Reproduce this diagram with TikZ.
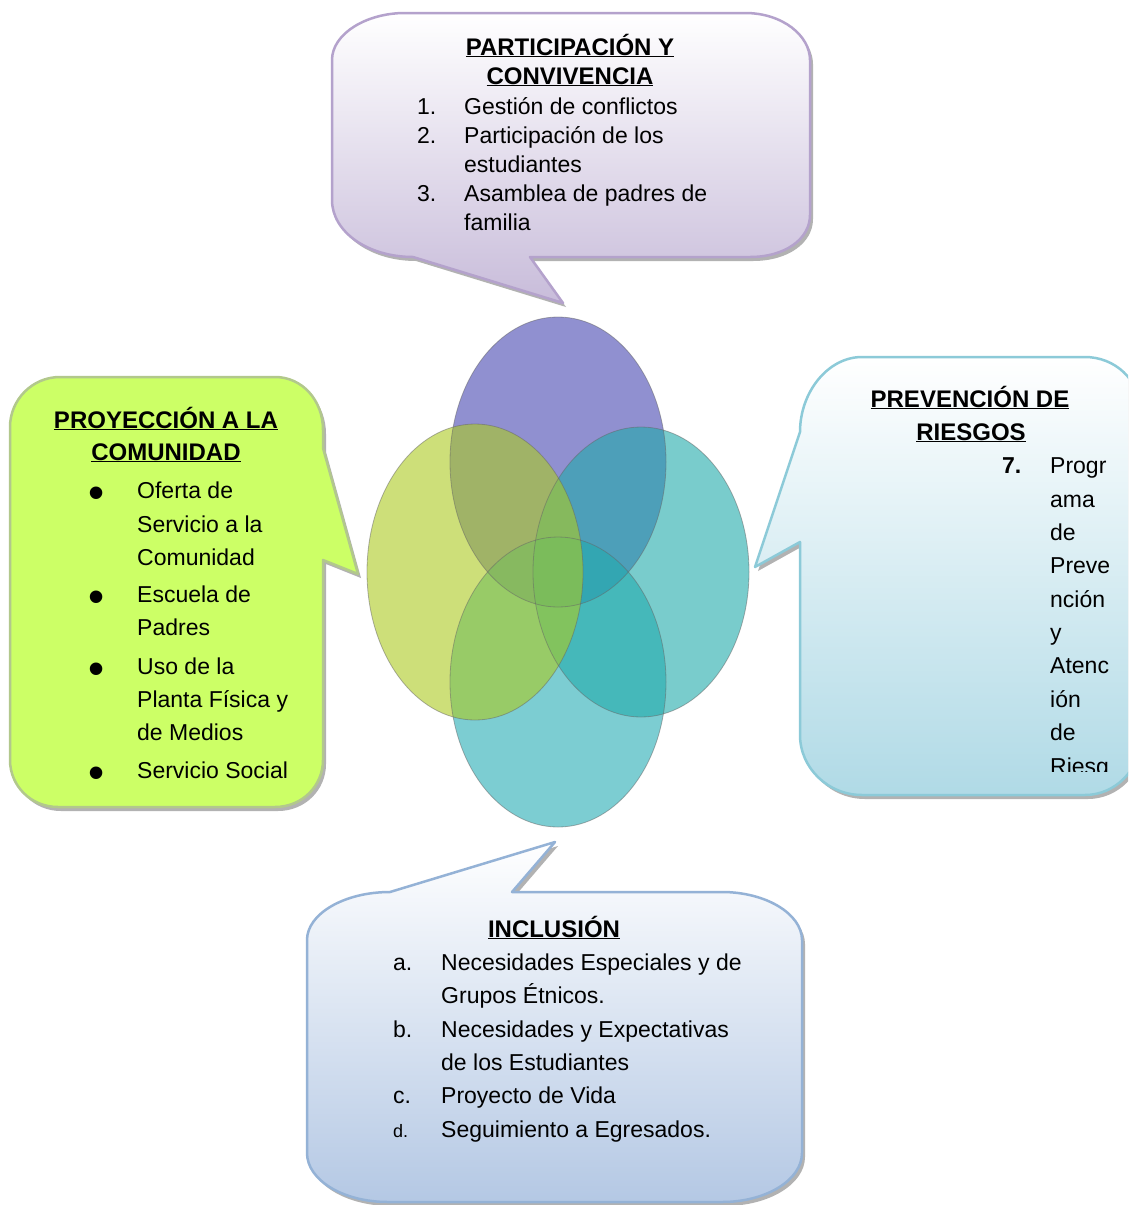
\documentclass[tikz,border=0pt]{standalone}
\usepackage{fontspec}
\setmainfont{Liberation Sans}
\definecolor{vtop}{RGB}{70,70,177}
\definecolor{vleft}{RGB}{172,203,33}
\definecolor{vright}{RGB}{33,170,170}
\definecolor{vbot}{RGB}{38,172,180}
\definecolor{tcfill}{RGB}{200,188,218}
\definecolor{tcline}{RGB}{180,162,204}
\definecolor{lcfill}{RGB}{204,255,102}
\definecolor{lcline}{RGB}{178,200,140}
\definecolor{rcfill}{RGB}{176,218,230}
\definecolor{rcline}{RGB}{140,202,216}
\definecolor{bcfill}{RGB}{180,200,228}
\definecolor{bcline}{RGB}{148,178,214}
\newcommand\calloutTC[1]{\path[#1] (405,13) -- (745,13) .. controls (783,13) and (810,36) .. (810,60) -- (810,215) .. controls (810,239) and (785,257) .. (750,257) -- (530,257) -- (563,303) -- (413,257) .. controls (368,257) and (332,232) .. (332,200) -- (332,60) .. controls (332,34) and (366,13) .. (405,13) -- cycle;}
\newcommand\calloutLC[1]{\path[#1] (60,377) -- (275,377) .. controls (302,377) and (323,400) .. (323,430) -- (323,448) -- (358,574) -- (323,560) -- (323,760) .. controls (323,786) and (302,807) .. (275,807) -- (58,807) .. controls (31,807) and (10,786) .. (10,760) -- (10,427) .. controls (10,400) and (32,377) .. (60,377) -- cycle;}
\newcommand\calloutRC[1]{\path[#1] (862,357) -- (1085,357) .. controls (1115,357) and (1140,380) .. (1140,410) -- (1140,740) .. controls (1140,770) and (1115,795) .. (1085,795) -- (862,795) .. controls (828,795) and (800,768) .. (800,735) -- (800,542) -- (755,567) -- (800,432) .. controls (800,392) and (828,357) .. (862,357) -- cycle;}
\newcommand\calloutBC[1]{\path[#1] (390,892) -- (555,842) -- (512,892) -- (722,892) .. controls (766,892) and (802,914) .. (802,940) -- (802,1153) .. controls (802,1180) and (766,1202) .. (722,1202) -- (388,1202) .. controls (343,1202) and (307,1180) .. (307,1153) -- (307,940) .. controls (307,914) and (344,892) .. (390,892) -- cycle;}
\begin{document}
\begin{tikzpicture}[x=1pt,y=-1pt,
  txt/.style={anchor=base west, inner sep=0pt, font=\fontsize{23}{28}\selectfont},
  hd/.style={anchor=base, inner sep=0pt, font=\bfseries\fontsize{24}{28}\selectfont},
  bul/.style={anchor=base, inner sep=0pt, font=\fontsize{46}{46}\selectfont},
  shad/.style={fill=black!30, draw=none},
  callline/.style={line width=2.5pt, line join=round},
  vennfill/.style={fill opacity=0.6},
  vennline/.style={draw=black!60, draw opacity=0.5, line width=0.8pt}]
\useasboundingbox (0,0) rectangle (1128,1205);
\clip (0,0) rectangle (1128,1205);
\fill[white] (0,0) rectangle (1128,1205);

% Venn ellipses
\fill[vtop, vennfill] (558,462) ellipse [x radius=108, y radius=145];
\fill[vbot, vennfill] (558,682) ellipse [x radius=108, y radius=145];
\fill[vright, vennfill] (641,572) ellipse [x radius=108, y radius=145];
\fill[vleft, vennfill] (475,572) ellipse [x radius=108, y radius=148];
\draw[vennline] (558,682) ellipse [x radius=108, y radius=145];
\draw[vennline] (641,572) ellipse [x radius=108, y radius=145];
\draw[vennline] (475,572) ellipse [x radius=108, y radius=148];
\draw[vennline] (558,462) ellipse [x radius=108, y radius=145];

% Callouts
\calloutTC{shad, shift={(3,4)}}
\calloutTC{top color=white, bottom color=tcfill, draw=tcline, callline}
\calloutLC{shad, shift={(3,4)}}
\calloutLC{fill=lcfill, draw=lcline, callline}
\calloutRC{shad, shift={(3,4)}}
\calloutRC{top color=white, bottom color=rcfill, draw=rcline, callline}
\calloutBC{shad, shift={(3,4)}}
\calloutBC{top color=white, bottom color=bcfill, draw=bcline, callline}

% Top callout text
\node[hd] (tch1) at (570,55) {\underline{PARTICIPACIÓN Y}};
\node[hd] (tch2) at (570,84) {\underline{CONVIVENCIA}};
\node[txt] (tcn1) at (417,114) {1.};
\node[txt] (tct1) at (464,114) {Gestión de conflictos};
\node[txt] (tcn2) at (417,143) {2.};
\node[txt] (tct2) at (464,143) {Participación de los};
\node[txt] (tct2b) at (464,172) {estudiantes};
\node[txt] (tcn3) at (417,201) {3.};
\node[txt] (tct3) at (464,201) {Asamblea de padres de};
\node[txt] (tct3b) at (464,230) {familia};

% Left callout text
\node[hd] (lch1) at (166,428) {\underline{PROYECCIÓN A LA}};
\node[hd] (lch2) at (166,460) {\underline{COMUNIDAD}};
\node[bul] (lcb1) at (97,508) {•};
\node[txt] (lct1) at (137,498) {Oferta de};
\node[txt] (lct1b) at (137,532) {Servicio a la};
\node[txt] (lct1c) at (137,565) {Comunidad};
\node[bul] (lcb2) at (97,612) {•};
\node[txt] (lct2) at (137,602) {Escuela de};
\node[txt] (lct2b) at (137,635) {Padres};
\node[bul] (lcb3) at (97,684) {•};
\node[txt] (lct3) at (137,674) {Uso de la};
\node[txt] (lct3b) at (137,707) {Planta Física y};
\node[txt] (lct3c) at (137,740) {de Medios};
\node[bul] (lcb4) at (97,788) {•};
\node[txt] (lct4) at (137,778) {Servicio Social};

% Right callout text
\node[hd] (rch1) at (970,407) {\underline{PREVENCIÓN DE}};
\node[hd] (rch2) at (971,440) {\underline{RIESGOS}};
\begin{scope}
\clip (800,357) rectangle (1128,771);
\node[txt, font=\bfseries\fontsize{23}{28}\selectfont] (rcn7) at (1002,473) {7.};
\node[txt] (rct1) at (1050,473) {Progr};
\node[txt] (rct2) at (1050,507) {ama};
\node[txt] (rct3) at (1050,540) {de};
\node[txt] (rct4) at (1050,573) {Preve};
\node[txt] (rct5) at (1050,607) {nción};
\node[txt] (rct6) at (1050,640) {y};
\node[txt] (rct7) at (1050,673) {Atenc};
\node[txt] (rct8) at (1050,707) {ión};
\node[txt] (rct9) at (1050,740) {de};
\node[txt] (rct10) at (1050,774) {Riesg};
\end{scope}

% Bottom callout text
\node[hd] (bch1) at (554,937) {\underline{INCLUSIÓN}};
\node[txt] (bcna) at (393,970) {a.};
\node[txt] (bcta) at (441,970) {Necesidades Especiales y de};
\node[txt] (bcta2) at (441,1003) {Grupos Étnicos.};
\node[txt] (bcnb) at (393,1037) {b.};
\node[txt] (bctb) at (441,1037) {Necesidades y Expectativas};
\node[txt] (bctb2) at (441,1070) {de los Estudiantes};
\node[txt] (bcnc) at (393,1103) {c.};
\node[txt] (bctc) at (441,1103) {Proyecto de Vida};
\node[txt, font=\fontsize{18}{22}\selectfont] (bcnd) at (393,1137) {d.};
\node[txt] (bctd) at (441,1137) {Seguimiento a Egresados.};
\end{tikzpicture}
\end{document}
